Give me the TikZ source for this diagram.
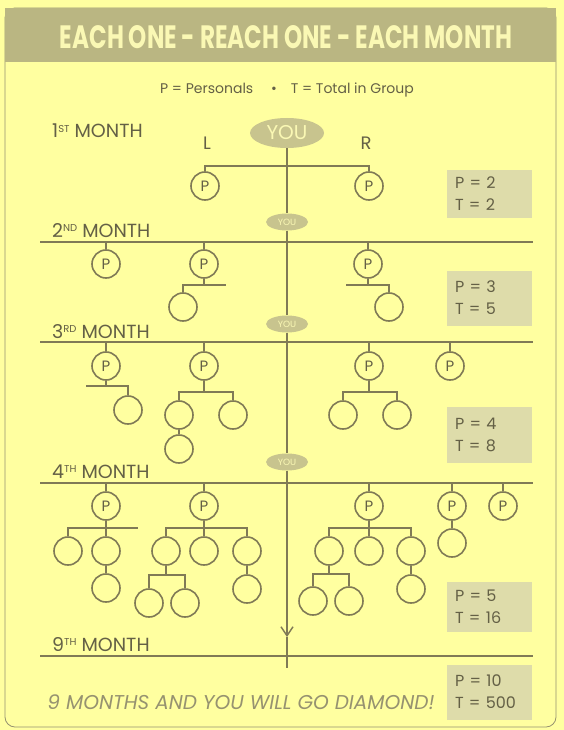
\documentclass[tikz,border=0pt]{standalone}
\usepackage{fontspec}
\setmainfont{Poppins}
\usepackage{graphicx}
\usetikzlibrary{shapes.geometric,arrows.meta}

\definecolor{paper}{RGB}{255,255,160}
\definecolor{band}{RGB}{186,182,130}
\definecolor{ink}{RGB}{128,122,86}
\definecolor{txt}{RGB}{100,96,70}
\definecolor{youfill}{RGB}{200,196,142}
\definecolor{boxfill}{RGB}{222,220,170}
\definecolor{pale}{RGB}{250,248,180}
\definecolor{soft}{RGB}{150,146,112}

\newcommand{\ordsup}[1]{\raisebox{5.5pt}{\fontsize{10}{10}\selectfont #1}}

\begin{document}
\begin{tikzpicture}[x=1pt,y=-1pt,
  link/.style={draw=ink,line width=1.6pt},
  rule/.style={draw=ink,line width=1.4pt},
  pc/.style={circle,draw=ink,line width=1.6pt,minimum size=28pt,inner sep=0pt,text=txt,font=\fontsize{15}{15}\selectfont},
  kid/.style={pc},
  youbig/.style={ellipse,fill=youfill,minimum width=74pt,minimum height=30pt,inner sep=0pt,text=pale,font=\fontsize{20}{20}\selectfont},
  yousmall/.style={youbig,minimum width=42pt,minimum height=17pt,font=\fontsize{9}{9}\selectfont},
  month/.style={anchor=base west,text=txt,inner sep=0pt,font=\fontsize{19}{19}\selectfont},
  stat/.style={fill=boxfill,minimum width=85pt,text width=68pt,align=left,text=txt,inner sep=0pt,font=\fontsize{16}{22}\selectfont}]
  \useasboundingbox (0,0) rectangle (564,730);
  \fill[paper] (0,0) rectangle (564,730);
  \draw[soft,line width=0.8pt,rounded corners=10pt] (5,8) rectangle (556,727);
  \fill[band] (5,8) rectangle (556,62);
  \node[text=pale,inner sep=0pt] (title) at (286,37) {\resizebox{452pt}{23pt}{\bfseries EACH ONE - REACH ONE - EACH MONTH}};
  \node[text=txt,font=\fontsize{14}{14}\selectfont] (key) at (287,90) {P = Personals \quad\textbullet\quad T = Total in Group};

  % 1st month
  \node[month] (mo1) at (52,138) {1\ordsup{ST} MONTH};
  \node[youbig] (you1) at (287,133) {YOU};
  \node[text=txt,font=\fontsize{18}{18}\selectfont] (lside) at (207,143) {L};
  \node[text=txt,font=\fontsize{18}{18}\selectfont] (rside) at (366,143) {R};
  \node[pc] (p1l) at (205,186) {P};
  \node[pc] (p1r) at (369,186) {P};
  \coordinate (bar1) at (287,166);
  \draw[link] (p1l) |- (bar1) -| (p1r);
  \node[stat,minimum height=48pt] (s1) at (489,194) {P = 2\\T = 2};

  % 2nd month
  \node[yousmall] (you2) at (287,222) {YOU};
  \draw[link] (you1) -- (you2);
  \node[month] (mo2) at (52,237) {2\ordsup{ND} MONTH};
  \coordinate (l2w) at (40,242); \coordinate (l2e) at (533,242);
  \draw[rule] (l2w) -- (l2e);
  \node[pc] (m2a) at (106,264) {P};
  \node[pc] (m2b) at (204,264) {P};
  \node[pc] (m2c) at (368,264) {P};
  \node[kid] (m2d) at (183,307) {};
  \node[kid] (m2e) at (389,307) {};
  \foreach \n in {m2a,m2b,m2c} \draw[link] (\n) -- (\n |- l2w);
  \coordinate (m2bx) at (226,285); \coordinate (m2cx) at (346,285);
  \draw[link] (m2b) -- (m2b |- m2bx);
  \draw[link] (m2d) |- (m2bx);
  \draw[link] (m2c) -- (m2c |- m2cx);
  \draw[link] (m2e) |- (m2cx);
  \node[stat,minimum height=55pt] (s2) at (489,298) {P = 3\\T = 5};

  % 3rd month
  \node[yousmall] (you3) at (287,324) {YOU};
  \draw[link] (you2) -- (you3);
  \node[month] (mo3) at (52,338) {3\ordsup{RD} MONTH};
  \coordinate (l3w) at (40,342); \coordinate (l3e) at (533,342);
  \draw[rule] (l3w) -- (l3e);
  \node[pc] (m3a) at (106,366) {P};
  \node[pc] (m3b) at (204,366) {P};
  \node[pc] (m3c) at (369,366) {P};
  \node[pc] (m3d) at (450,366) {P};
  \foreach \n in {m3a,m3b,m3c,m3d} \draw[link] (\n) -- (\n |- l3w);
  \node[kid] (m3e) at (128,410) {};
  \coordinate (m3ax) at (86,386);
  \draw[link] (m3a) -- (m3a |- m3ax);
  \draw[link] (m3e) |- (m3ax);
  \node[kid] (m3f) at (179,415) {};
  \node[kid] (m3g) at (233,415) {};
  \node[kid] (m3h) at (179,449) {};
  \coordinate (m3bx) at (204,392);
  \draw[link] (m3b) -- (m3bx);
  \draw[link] (m3f) |- (m3bx) -| (m3g);
  \draw[link] (m3f) -- (m3h);
  \node[kid] (m3i) at (343,415) {};
  \node[kid] (m3j) at (397,415) {};
  \coordinate (m3cx) at (369,392);
  \draw[link] (m3c) -- (m3cx);
  \draw[link] (m3i) |- (m3cx) -| (m3j);
  \node[stat,minimum height=56pt] (s3) at (489,435) {P = 4\\T = 8};

  % 4th month
  \node[yousmall] (you4) at (287,462) {YOU};
  \draw[link] (you3) -- (you4);
  \node[month] (mo4) at (52,478) {4\ordsup{TH} MONTH};
  \coordinate (l4w) at (40,483); \coordinate (l4e) at (533,483);
  \draw[rule] (l4w) -- (l4e);
  \node[pc] (m4a) at (106,506) {P};
  \node[pc] (m4b) at (204,506) {P};
  \node[pc] (m4c) at (369,506) {P};
  \node[pc] (m4d) at (452,506) {P};
  \node[pc] (m4e) at (503,506) {P};
  \foreach \n in {m4a,m4b,m4c,m4d,m4e} \draw[link] (\n) -- (\n |- l4w);
  % left P
  \node[kid] (m4f) at (68,551) {};
  \node[kid] (m4g) at (106,551) {};
  \node[kid] (m4h) at (106,588) {};
  \coordinate (m4ax) at (138,528);
  \draw[link] (m4a) -- (m4g);
  \draw[link] (m4f) |- (m4ax);
  \draw[link] (m4g) -- (m4h);
  % second P
  \node[kid] (m4i) at (166,551) {};
  \node[kid] (m4j) at (204,551) {};
  \node[kid] (m4k) at (247,551) {};
  \node[kid] (m4l) at (149,603) {};
  \node[kid] (m4m) at (185,603) {};
  \node[kid] (m4n) at (247,589) {};
  \coordinate (m4bx) at (204,528);
  \draw[link] (m4b) -- (m4j);
  \draw[link] (m4i) |- (m4bx) -| (m4k);
  \coordinate (m4ix) at (166,575);
  \draw[link] (m4i) -- (m4ix);
  \draw[link] (m4l) |- (m4ix) -| (m4m);
  \draw[link] (m4k) -- (m4n);
  % right P
  \node[kid] (m4o) at (329,551) {};
  \node[kid] (m4p) at (369,551) {};
  \node[kid] (m4q) at (411,551) {};
  \node[kid] (m4r) at (313,601) {};
  \node[kid] (m4s) at (349,601) {};
  \node[kid] (m4t) at (411,589) {};
  \coordinate (m4cx) at (369,528);
  \draw[link] (m4c) -- (m4p);
  \draw[link] (m4o) |- (m4cx) -| (m4q);
  \coordinate (m4ox) at (329,574);
  \draw[link] (m4o) -- (m4ox);
  \draw[link] (m4r) |- (m4ox) -| (m4s);
  \draw[link] (m4q) -- (m4t);
  \node[kid] (m4u) at (452,543) {};
  \draw[link] (m4d) -- (m4u);
  \node[stat,minimum height=50pt] (s4) at (489,607) {P = 5\\T = 16};

  % 9th month
  \coordinate (tip) at (287,637); \coordinate (foot) at (287,668);
  \draw[link,-{Straight Barb[length=9pt,width=12pt,line width=1.4pt]}] (you4) -- (tip);
  \draw[link] (tip) -- (foot);
  \node[month] (mo9) at (52,651) {9\ordsup{TH} MONTH};
  \coordinate (l9w) at (40,656); \coordinate (l9e) at (533,656);
  \draw[rule] (l9w) -- (l9e);
  \node[stat,minimum height=55pt] (s5) at (489,692) {P = 10\\T = 500};
  \node[text=soft,inner sep=0pt] (goal) at (241,702) {\resizebox{387pt}{!}{\itshape 9 MONTHS AND YOU WILL GO DIAMOND!}};
\end{tikzpicture}
\end{document}
